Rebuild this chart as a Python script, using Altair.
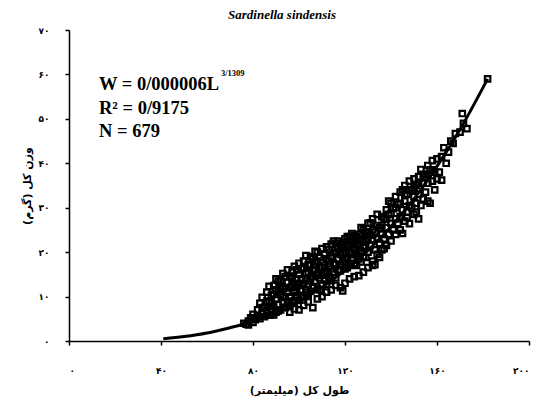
import altair as alt
import pandas as pd

# ---- data ----
lengths = [
    76, 77, 78, 79, 80, 80, 81, 82, 82, 78,
    83, 83, 84, 84, 85, 85, 86, 86, 87, 87, 87, 88, 88, 88,
    89, 89, 90, 90, 90, 91, 91, 92, 92, 92, 93, 93, 94, 94, 94, 89, 91, 93,
    95, 95, 95, 96, 96, 97, 97, 97, 98, 98, 98, 99, 99, 100, 100, 100, 96, 99,
    101, 101, 102, 102, 102, 103, 103, 104, 104, 104, 105, 105, 105, 106, 106, 106, 103, 101,
    107, 107, 108, 108, 108, 109, 109, 110, 110, 110, 111, 111, 112, 112, 112, 109, 111, 107,
    113, 113, 114, 114, 114, 115, 115, 116, 116, 116, 117, 117, 118, 118, 118, 115, 113, 117,
    119, 119, 120, 120, 120, 121, 121, 122, 122, 122, 123, 123, 124, 124, 124, 121, 119, 123,
    125, 125, 126, 126, 126, 127, 127, 128, 128, 128, 129, 129, 130, 130, 130, 127, 129, 125,
    131, 131, 132, 132, 132, 133, 133, 134, 134, 134, 135, 135, 136, 136, 136, 133, 135,
    137, 137, 138, 138, 138, 139, 139, 140, 140, 140, 141, 141, 142, 142, 142, 139, 137,
    143, 143, 144, 144, 144, 145, 145, 146, 146, 146, 147, 147, 148, 148, 148, 145, 147,
    149, 149, 150, 150, 150, 151, 151, 152, 152, 152, 153, 153, 154, 154, 151,
    155, 155, 156, 156, 157, 157, 158, 158, 159, 159, 160, 160, 156,
    161, 162, 162, 163, 164, 165, 166,
    167, 168, 170, 171, 171.5, 173, 182,
    96, 98, 100, 102, 104, 106, 108, 110, 112, 114, 116, 118, 119, 120, 122, 124, 126, 128, 130, 132,
    84, 86, 88, 89, 90, 91, 92, 93, 94, 95, 96, 97, 98, 99, 100, 101, 102, 103, 104, 105,
    106, 107, 108, 109, 110, 111, 112, 113, 114, 115, 116, 117, 118, 119, 120, 121, 122, 123, 124, 125,
    126, 127, 128, 129, 130, 131, 132, 134, 136, 138, 140, 142, 144, 146, 148, 150, 152, 154, 156, 158,
]
weights = [
    4.0, 3.8, 4.5, 5.2, 4.2, 6.0, 4.8, 5.5, 7.0, 3.6,
    5.0, 8.5, 6.2, 9.8, 5.5, 7.5, 6.8, 11.0, 5.8, 8.8, 12.3, 7.0, 10.2, 6.0,
    7.8, 12.5, 6.5, 9.5, 14.0, 8.2, 11.2, 7.0, 10.5, 13.6, 8.8, 15.2, 7.5, 12.0, 9.8, 5.9, 6.8, 11.8,
    8.5, 13.2, 16.0, 10.0, 8.0, 12.5, 15.5, 9.0, 11.0, 16.8, 8.5, 13.8, 10.2, 9.2, 15.0, 17.5, 14.6, 12.0,
    11.5, 16.2, 9.8, 13.0, 18.0, 11.0, 15.2, 10.5, 17.2, 12.8, 14.0, 19.0, 11.2, 16.0, 12.0, 18.5, 19.2, 10.0,
    13.5, 17.8, 11.8, 15.0, 20.0, 14.2, 18.8, 12.5, 16.5, 20.8, 13.8, 19.5, 15.2, 21.2, 12.8, 11.5, 17.0, 20.2,
    14.5, 18.0, 16.2, 21.8, 13.6, 15.5, 19.8, 17.2, 22.0, 14.2, 18.5, 20.8, 15.8, 21.5, 17.0, 22.5, 20.6, 16.0,
    17.8, 22.2, 16.2, 20.0, 23.0, 18.8, 21.5, 17.0, 23.5, 19.8, 18.2, 22.0, 20.5, 23.8, 17.5, 16.5, 19.5, 24.2,
    19.5, 23.5, 18.5, 21.5, 24.0, 20.2, 23.0, 19.0, 22.5, 25.0, 21.0, 24.5, 20.0, 23.0, 26.5, 17.8, 18.8, 21.8,
    21.5, 26.6, 22.8, 27.5, 18.0, 20.5, 24.5, 23.0, 26.0, 19.5, 22.0, 25.5, 24.0, 28.0, 20.5, 17.2, 18.8,
    23.0, 27.5, 25.5, 29.5, 21.5, 24.0, 28.5, 26.5, 31.0, 22.5, 25.0, 29.8, 27.5, 32.5, 24.0, 31.5, 20.8,
    26.5, 30.8, 28.0, 33.5, 25.0, 29.5, 34.0, 27.0, 31.5, 35.0, 29.0, 33.0, 26.4, 30.5, 36.0, 24.2, 27.8,
    30.0, 34.0, 28.5, 32.5, 36.5, 31.0, 35.0, 27.5, 33.0, 37.0, 30.5, 38.6, 32.0, 35.5, 29.0,
    33.5, 37.0, 31.5, 35.5, 31.0, 38.5, 36.0, 40.6, 34.0, 38.0, 36.5, 41.0, 39.5,
    38.0, 41.5, 36.2, 43.5, 40.0, 42.5, 45.0,
    44.5, 46.7, 47.0, 51.2, 49.0, 47.8, 59.0,
    6.5, 7.2, 7.0, 8.0, 8.8, 7.5, 9.5, 10.0, 11.0, 11.5, 12.5, 12.0, 11.3, 13.0, 14.0, 14.5, 14.7, 15.5, 16.5, 17.0,
    7.5, 9.0, 8.5, 10.5, 11.5, 13.5, 12.0, 10.0, 14.5, 11.0, 12.0, 14.0, 13.0, 16.0, 12.5, 14.0, 16.5, 13.5, 15.5, 17.0,
    14.5, 16.0, 18.0, 16.5, 14.8, 15.5, 18.5, 16.8, 19.0, 17.5, 20.0, 22.5, 19.5, 21.0, 18.5, 23.5, 21.5, 20.0, 22.0, 17.0,
    20.0, 25.5, 21.0, 22.5, 24.5, 23.8, 25.0, 28.5, 26.0, 27.5, 28.8, 30.0, 31.0, 33.0, 34.0, 34.5, 35.5, 37.5, 37.5, 38.5,
]

curve_L = [41, 50, 60, 70, 80, 90, 100, 110, 120, 130, 140, 150, 160, 170, 182]
curve_W = [0.5, 1.0, 1.8, 3.0, 4.4, 6.4, 8.9, 12.1, 15.9, 20.4, 25.8, 32.0, 39.3, 47.6, 59.0]

x_ticks = [0, 40, 80, 120, 160, 200]
x_tick_labels = ["۰", "۴۰", "۸۰", "۱۲۰", "۱۶۰", "۲۰۰"]
y_ticks = [0, 10, 20, 30, 40, 50, 60, 70]
y_tick_labels = ["۰", "۱۰", "۲۰", "۳۰", "۴۰", "۵۰", "۶۰", "۷۰"]

title_text = "Sardinella sindensis"
x_title = "طول کل (میلیمتر)"
y_title = "وزن کل (گرم)"
annotation_lines = ["W = 0/000006L", "R² = 0/9175", "N = 679"]
exponent_text = "3/1309"


def label_expr(values, labels):
    return "".join(f"datum.value == {v} ? '{l}' : " for v, l in zip(values, labels)) + "''"


points = pd.DataFrame({"L": lengths, "W": weights})
curve = pd.DataFrame({"L": curve_L, "W": curve_W})

axis_common = dict(
    grid=False, domainColor="black", domainWidth=1.5, tickColor="black", tickWidth=1.5,
    tickSize=4, labelFont="DejaVu Sans", labelFontWeight="bold", labelFontSize=9,
    labelColor="black", titleFont="DejaVu Sans", titleFontWeight="bold", titleFontSize=11,
    titleColor="black",
)

xscale = alt.Scale(domain=[0, 200], nice=False, zero=False)
yscale = alt.Scale(domain=[0, 70], nice=False)

xaxis = alt.Axis(values=x_ticks, labelExpr=label_expr(x_ticks, x_tick_labels), title=x_title,
                 labelPadding=21, titlePadding=9, **axis_common)
yaxis = alt.Axis(values=y_ticks, labelExpr=label_expr(y_ticks, y_tick_labels), title=y_title,
                 labelPadding=16, titlePadding=6, **axis_common)

scatter = alt.Chart(points).mark_point(
    shape="square", filled=False, color="black", size=30, strokeWidth=2.2, opacity=1
).encode(
    x=alt.X("L:Q", scale=xscale, axis=xaxis),
    y=alt.Y("W:Q", scale=yscale, axis=yaxis),
)

line = alt.Chart(curve).mark_line(color="black", strokeWidth=3, interpolate="monotone").encode(
    x=alt.X("L:Q", scale=xscale),
    y=alt.Y("W:Q", scale=yscale),
)

ann_df = pd.DataFrame({"t": annotation_lines, "yy": [60, 84, 107]})
ann = alt.Chart(ann_df).mark_text(
    font="Liberation Serif", fontSize=18.5, fontWeight="bold", align="left",
    baseline="alphabetic", color="black"
).encode(text="t:N", x=alt.value(30), y=alt.Y("yy:Q", scale=None))

exp_df = pd.DataFrame({"t": [exponent_text]})
exp_text = alt.Chart(exp_df).mark_text(
    font="Liberation Serif", fontSize=8.5, fontWeight="bold", align="left",
    baseline="alphabetic", color="black"
).encode(text="t:N", x=alt.value(152), y=alt.value(46))

title_df = pd.DataFrame({"t": [title_text]})
title_mark = alt.Chart(title_df).mark_text(
    font="Liberation Serif", fontSize=13, fontStyle="italic", fontWeight="bold",
    align="center", baseline="alphabetic", color="black"
).encode(text="t:N", x=alt.value(213), y=alt.value(-11))

chart = alt.layer(scatter, line, ann, exp_text, title_mark).properties(
    width=460, height=311,
    padding={"left": 61, "top": 22, "right": 4, "bottom": 62},
    autosize="none",
    background="white",
).configure_view(stroke=None)

chart.save("out.html", embed_options={"renderer": "svg", "actions": False})
